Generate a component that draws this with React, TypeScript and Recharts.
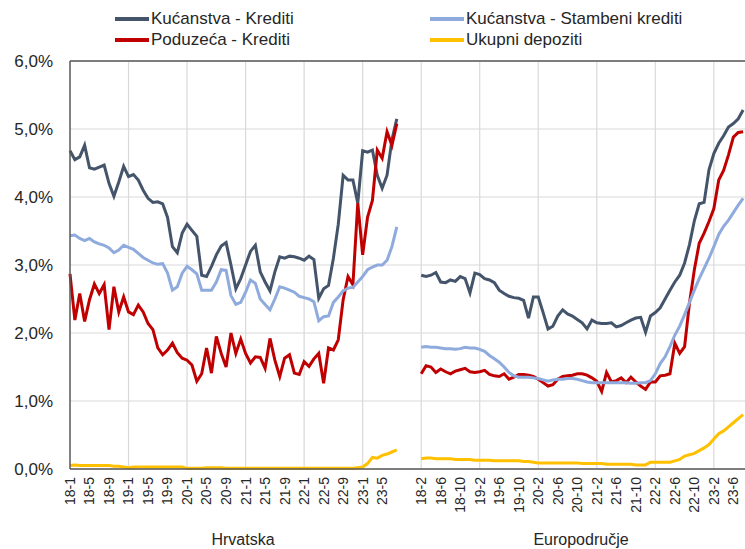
import React from 'react';
import { LineChart, Line, XAxis, YAxis, CartesianGrid, ReferenceLine } from 'recharts';

// month labels "yy-m"
const monthLabels = (year: number, month: number, count: number) => {
  const out: string[] = [];
  let y = year;
  let m = month;
  for (let k = 0; k < count; k++) {
    out.push(`${y}-${m}`);
    m++;
    if (m > 12) { m = 1; y++; }
  }
  return out;
};

// Hrvatska: 18-1 .. 23-8
const hrMonths = monthLabels(18, 1, 68);
// Europodručje: 18-2 .. 23-8
const euMonths = monthLabels(18, 2, 67);
const gapSize = 4;

const hrHousehold = [
  4.68, 4.55, 4.59, 4.76, 4.43, 4.41, 4.44, 4.47, 4.20, 4.01,
  4.22, 4.45, 4.30, 4.33, 4.25, 4.10, 3.98, 3.92, 3.93, 3.90,
  3.70, 3.27, 3.18, 3.47, 3.60, 3.51, 3.42, 2.85, 2.83, 2.98,
  3.15, 3.28, 3.33, 3.00, 2.65, 2.80, 3.00, 3.20, 3.29, 2.90,
  2.75, 2.62, 2.90, 3.12, 3.10, 3.13, 3.12, 3.10, 3.07, 3.13,
  3.08, 2.51, 2.65, 2.70, 3.10, 3.60, 4.32, 4.25, 4.25, 3.91,
  4.68, 4.66, 4.69, 4.32, 4.13, 4.32, 4.84, 5.15,
];
const hrHousing = [
  3.43, 3.44, 3.39, 3.36, 3.39, 3.34, 3.31, 3.29, 3.25, 3.18,
  3.22, 3.29, 3.26, 3.23, 3.17, 3.11, 3.07, 3.03, 3.01, 3.02,
  2.88, 2.63, 2.68, 2.88, 2.98, 2.93, 2.87, 2.63, 2.63, 2.63,
  2.75, 2.93, 2.92, 2.55, 2.42, 2.45, 2.60, 2.78, 2.73, 2.50,
  2.42, 2.34, 2.50, 2.68, 2.66, 2.63, 2.60, 2.54, 2.52, 2.50,
  2.46, 2.18, 2.24, 2.25, 2.45, 2.53, 2.62, 2.66, 2.67, 2.75,
  2.83, 2.93, 2.97, 3.00, 3.00, 3.07, 3.27, 3.56,
];
const hrCorporate = [
  2.87, 2.19, 2.58, 2.17, 2.49, 2.72, 2.58, 2.71, 2.05, 2.68,
  2.31, 2.53, 2.31, 2.27, 2.41, 2.31, 2.14, 2.05, 1.78, 1.68,
  1.75, 1.85, 1.71, 1.63, 1.60, 1.53, 1.29, 1.40, 1.78, 1.41,
  1.95, 1.70, 1.50, 2.00, 1.70, 1.91, 1.70, 1.56, 1.65, 1.64,
  1.48, 1.92, 1.60, 1.36, 1.63, 1.68, 1.41, 1.39, 1.58, 1.51,
  1.62, 1.70, 1.26, 1.78, 1.75, 1.90, 2.49, 2.83, 2.71, 3.91,
  3.15, 3.70, 3.95, 4.69, 4.57, 4.96, 4.76, 5.08,
];
const hrDeposits = [
  0.05, 0.06, 0.05, 0.05, 0.05, 0.05, 0.05, 0.05, 0.05, 0.04,
  0.04, 0.03, 0.02, 0.03, 0.03, 0.03, 0.03, 0.03, 0.03, 0.03,
  0.03, 0.03, 0.03, 0.03, 0.01, 0.01, 0.01, 0.01, 0.02, 0.02,
  0.02, 0.02, 0.01, 0.01, 0.01, 0.01, 0.01, 0.01, 0.01, 0.01,
  0.01, 0.01, 0.01, 0.01, 0.01, 0.01, 0.01, 0.01, 0.01, 0.01,
  0.01, 0.01, 0.01, 0.01, 0.01, 0.01, 0.01, 0.01, 0.01, 0.02,
  0.03, 0.08, 0.17, 0.16, 0.20, 0.22, 0.25, 0.28,
];

const euHousehold = [
  2.85, 2.83, 2.85, 2.89, 2.75, 2.74, 2.78, 2.76, 2.83, 2.80,
  2.59, 2.88, 2.86, 2.80, 2.78, 2.74, 2.63, 2.58, 2.54, 2.52,
  2.51, 2.48, 2.22, 2.53, 2.53, 2.30, 2.06, 2.10, 2.25, 2.34,
  2.28, 2.25, 2.20, 2.15, 2.06, 2.19, 2.15, 2.14, 2.14, 2.15,
  2.09, 2.11, 2.15, 2.19, 2.22, 2.23, 2.01, 2.25, 2.30, 2.37,
  2.50, 2.63, 2.75, 2.85, 3.03, 3.30, 3.65, 3.90, 3.92, 4.40,
  4.64, 4.79, 4.90, 5.03, 5.08, 5.15, 5.28,
];
const euHousing = [
  1.79, 1.80, 1.79, 1.79, 1.78, 1.77, 1.77, 1.76, 1.77, 1.79,
  1.78, 1.78, 1.76, 1.73, 1.67, 1.62, 1.57, 1.50, 1.42, 1.37,
  1.35, 1.35, 1.35, 1.34, 1.33, 1.31, 1.29, 1.31, 1.32, 1.32,
  1.33, 1.33, 1.32, 1.30, 1.28, 1.27, 1.27, 1.27, 1.27, 1.27,
  1.27, 1.27, 1.27, 1.26, 1.26, 1.27, 1.27, 1.30, 1.40, 1.55,
  1.65, 1.80, 1.97, 2.10, 2.27, 2.45, 2.63, 2.80, 2.95, 3.10,
  3.27, 3.45, 3.57, 3.66, 3.77, 3.88, 3.98,
];
const euCorporate = [
  1.40, 1.52, 1.50, 1.42, 1.47, 1.43, 1.40, 1.44, 1.46, 1.48,
  1.43, 1.42, 1.43, 1.45, 1.39, 1.37, 1.36, 1.40, 1.32, 1.35,
  1.39, 1.39, 1.38, 1.36, 1.32, 1.27, 1.22, 1.24, 1.32, 1.36,
  1.37, 1.38, 1.40, 1.40, 1.38, 1.34, 1.29, 1.14, 1.42, 1.28,
  1.30, 1.34, 1.27, 1.35, 1.28, 1.22, 1.17, 1.28, 1.28, 1.37,
  1.38, 1.40, 1.85, 1.70, 1.80, 2.44, 2.93, 3.32, 3.47, 3.64,
  3.83, 4.25, 4.39, 4.62, 4.88, 4.95, 4.96,
];
const euDeposits = [
  0.15, 0.16, 0.16, 0.15, 0.15, 0.15, 0.15, 0.14, 0.14, 0.14,
  0.14, 0.13, 0.13, 0.13, 0.13, 0.12, 0.12, 0.12, 0.12, 0.12,
  0.12, 0.11, 0.11, 0.10, 0.09, 0.09, 0.09, 0.09, 0.09, 0.09,
  0.09, 0.09, 0.09, 0.08, 0.08, 0.08, 0.08, 0.08, 0.07, 0.07,
  0.07, 0.07, 0.07, 0.07, 0.06, 0.06, 0.06, 0.10, 0.10, 0.10,
  0.10, 0.10, 0.12, 0.14, 0.19, 0.21, 0.23, 0.27, 0.31, 0.36,
  0.44, 0.52, 0.56, 0.62, 0.68, 0.74, 0.80,
];

const yTicks = [0, 1, 2, 3, 4, 5, 6];

const series = [
  { key: 'household', name: 'Kućanstva - Krediti', color: '#44546A' },
  { key: 'corporate', name: 'Poduzeća - Krediti', color: '#C00000' },
  { key: 'housing', name: 'Kućanstva - Stambeni krediti', color: '#8FAADC' },
  { key: 'deposits', name: 'Ukupni depoziti', color: '#FFC000' },
];

// one continuous axis: Hrvatska, empty gap, Europodručje
const euStart = hrMonths.length + gapSize;
const rows: Array<Record<string, number | string | null>> = [
  ...hrMonths.map((m, i) => ({
    idx: i, label: m,
    household: hrHousehold[i], housing: hrHousing[i], corporate: hrCorporate[i], deposits: hrDeposits[i],
  })),
  ...Array.from({ length: gapSize }, (_, k) => ({
    idx: hrMonths.length + k, label: '',
    household: null, housing: null, corporate: null, deposits: null,
  })),
  ...euMonths.map((m, j) => ({
    idx: euStart + j, label: m,
    household: euHousehold[j], housing: euHousing[j], corporate: euCorporate[j], deposits: euDeposits[j],
  })),
];

const labelAt: Record<number, string> = {};
rows.forEach(r => { labelAt[r.idx as number] = r.label as string; });

const xTicks = rows
  .filter(r => r.label !== '' && ((r.idx as number) < euStart ? (r.idx as number) % 4 === 0 : ((r.idx as number) - euStart) % 4 === 0))
  .map(r => r.idx as number);
const gridX = rows.map(r => r.idx as number).filter(i => i > 0 && i % 12 === 0);

const FONT = '"Liberation Sans", Arial, sans-serif';
const TEXT = '#262626';

const RotatedTick = ({ x, y, payload }: any) => (
  <text
    transform={`translate(${x},${y}) rotate(-90)`}
    textAnchor="end"
    dy="0.35em"
    fontSize={14}
    fontFamily={FONT}
    fill={TEXT}
  >
    {labelAt[payload.value]}
  </text>
);

export default function App() {
  const legendPos: Record<string, { left: number; top: number }> = {
    household: { left: 115, top: 19 },
    corporate: { left: 115, top: 40 },
    housing: { left: 430, top: 19 },
    deposits: { left: 430, top: 40 },
  };

  return (
    <div style={{ position: 'fixed', left: 0, top: 0, width: 745, height: 549, overflow: 'hidden', background: '#fff', fontFamily: FONT }}>
      {series.map(s => (
        <div key={s.key} style={{ position: 'absolute', left: legendPos[s.key].left, top: legendPos[s.key].top - 11, height: 22, display: 'flex', alignItems: 'center', whiteSpace: 'nowrap' }}>
          <span style={{ display: 'inline-block', width: 34, height: 3.5, background: s.color, marginRight: 2 }} />
          <span style={{ fontSize: 17, color: TEXT }}>{s.name}</span>
        </div>
      ))}

      <LineChart
        width={748}
        height={549}
        data={rows}
        margin={{ top: 61, right: 0, left: 0, bottom: 0 }}
        style={{ position: 'absolute', left: 0, top: 0 }}
      >
        <CartesianGrid vertical={false} stroke="#D9D9D9" strokeWidth={1.2} />
        {gridX.map(g => (
          <ReferenceLine key={g} x={g} stroke="#D9D9D9" strokeWidth={1.2} />
        ))}
        <ReferenceLine y={6} stroke="#595959" strokeWidth={1.5} />
        <XAxis
          type="number"
          dataKey="idx"
          domain={[0, 139]}
          ticks={xTicks}
          interval={0}
          allowDecimals={false}
          tickLine={false}
          axisLine={{ stroke: '#595959', strokeWidth: 1.5 }}
          tick={<RotatedTick />}
          height={80}
        />
        <YAxis
          domain={[0, 6]}
          ticks={yTicks}
          width={70}
          tickLine={false}
          tickMargin={11}
          axisLine={{ stroke: '#595959', strokeWidth: 1.5 }}
          tickFormatter={(v: number) => `${v.toFixed(1).replace('.', ',')}%`}
          tick={{ fontSize: 17, fill: TEXT, fontFamily: FONT }}
        />
        {series.map(s => (
          <Line
            key={s.key}
            type="linear"
            dataKey={s.key}
            name={s.name}
            stroke={s.color}
            strokeWidth={3}
            dot={false}
            activeDot={false}
            connectNulls={false}
            isAnimationActive={false}
          />
        ))}
      </LineChart>

      <div style={{ position: 'absolute', left: 243, top: 540, transform: 'translate(-50%, -50%)', fontSize: 16, color: TEXT }}>Hrvatska</div>
      <div style={{ position: 'absolute', left: 581, top: 540, transform: 'translate(-50%, -50%)', fontSize: 16, color: TEXT }}>Europodručje</div>
    </div>
  );
}
